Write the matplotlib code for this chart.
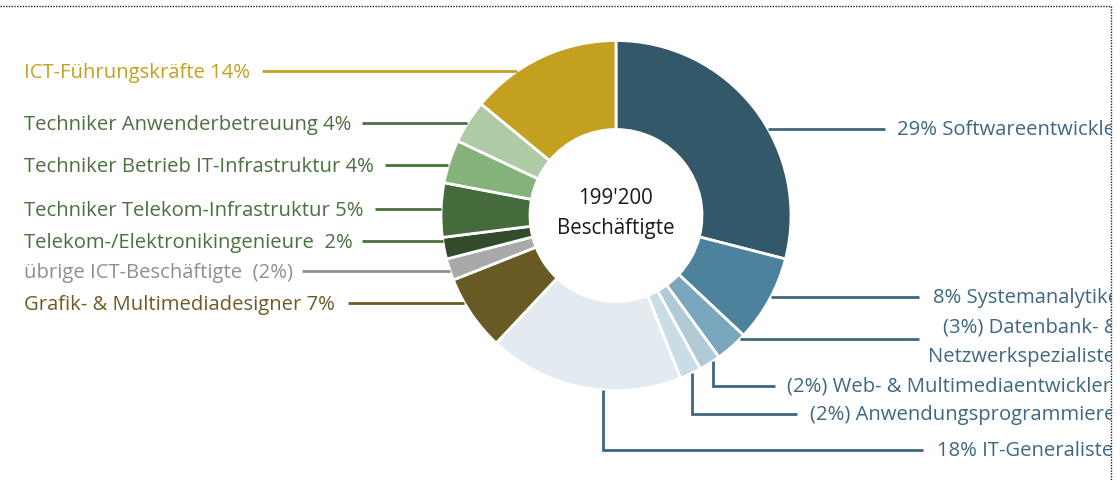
import matplotlib
matplotlib.use("Agg")
import matplotlib.pyplot as plt
import numpy as np

# ---- data (clockwise from 12 o'clock) ----
categories = [
    "Softwareentwickler", "Systemanalytiker", "Datenbank- & Netzwerkspezialisten",
    "Web- & Multimediaentwickler", "Anwendungsprogrammierer", "IT-Generalisten",
    "Grafik- & Multimediadesigner", "übrige ICT-Beschäftigte", "Telekom-/Elektronikingenieure",
    "Techniker Telekom-Infrastruktur", "Techniker Betrieb IT-Infrastruktur",
    "Techniker Anwenderbetreuung", "ICT-Führungskräfte",
]
shares = [29, 8, 3, 2, 2, 18, 7, 2, 2, 5, 4, 4, 14]
labels = [
    "29% Softwareentwickler", "8% Systemanalytiker", "(3%) Datenbank- &\nNetzwerkspezialisten",
    "(2%) Web- & Multimediaentwickler", "(2%) Anwendungsprogrammierer", "18% IT-Generalisten",
    "Grafik- & Multimediadesigner 7%", "übrige ICT-Beschäftigte  (2%)", "Telekom-/Elektronikingenieure  2%",
    "Techniker Telekom-Infrastruktur 5%", "Techniker Betrieb IT-Infrastruktur 4%",
    "Techniker Anwenderbetreuung 4%", "ICT-Führungskräfte 14%",
]
total_label = "199'200\nBeschäftigte"

colors = ["#325869", "#4d829c", "#7aa7bd", "#b0cad6", "#cadde6", "#e3ebf1",
          "#695a23", "#a9a9a9", "#324b2b", "#456b3d", "#84b37a", "#aecba5", "#c4a020"]
text_colors = ["#3d6880"] * 6 + ["#6b5c24", "#8f8f8f", "#4a7040", "#4a7040", "#4a7040", "#4a7040", "#c4a020"]

W, H = 1120, 481
fig = plt.figure(figsize=(W / 100, H / 100), dpi=100)
AW = 1111
ax = fig.add_axes([0, 0, AW / W, 1])

cx, cy = 616, H - 216.5
R, ring = 175, 89

ax.pie(shares, colors=colors, startangle=90, counterclock=False, radius=R,
       center=(cx, cy), frame=True,
       wedgeprops=dict(width=ring, edgecolor="white", linewidth=2))
ax.set_aspect("auto")
ax.set_xlim(0, AW)
ax.set_ylim(0, H)
ax.axis("off")

FAM = ["Open Sans", "DejaVu Sans"]
font = dict(family=FAM, fontsize=14.6)

def yy(py):
    return H - py

layout = {
    0: ("hr", 130, 885, 897),
    1: ("hr", 298, 919, 933),
    2: ("hr", 340, 919, None),
    3: ("v", 713, 387, 775, 787),
    4: ("v", 692, 415, 797, 810),
    5: ("v", 603, 451, 923, 937),
    6: ("hl", 304, 348),
    7: ("hl", 272, 302),
    8: ("hl", 242, 362),
    9: ("hl", 210, 375),
    10: ("hl", 166, 385),
    11: ("hl", 124, 362),
    12: ("hl", 72, 262),
}

for i, lab in enumerate(labels):
    spec = layout[i]
    c = text_colors[i]
    if spec[0] == "hr":
        _, py, xend, xt = spec
        xs = cx + np.sqrt(R ** 2 - (cy - yy(py)) ** 2)
        ax.plot([xs, xend], [yy(py), yy(py)], color=c, lw=2, solid_capstyle="butt")
        if xt is not None:
            ax.text(xt, yy(py), lab, color=c, ha="left", va="center", clip_on=True, **font)
    elif spec[0] == "v":
        _, px, py, xend, xt = spec
        ys = cy - np.sqrt(R ** 2 - (px - cx) ** 2)
        ax.plot([px, px, xend], [ys, yy(py), yy(py)], color=c, lw=2,
                solid_capstyle="butt", solid_joinstyle="miter")
        ax.text(xt, yy(py), lab, color=c, ha="left", va="center", clip_on=True, **font)
    else:
        _, py, xstart = spec
        xs = cx - np.sqrt(R ** 2 - (cy - yy(py)) ** 2)
        ax.plot([xstart, xs], [yy(py), yy(py)], color=c, lw=2, solid_capstyle="butt")
        ax.text(24, yy(py + 1), lab, color=c, ha="left", va="center", clip_on=True, **font)

l1, l2 = labels[2].split("\n")
ax.text(943, yy(328), l1, color=text_colors[2], ha="left", va="center", clip_on=True, **font)
ax.text(928, yy(357), l2, color=text_colors[2], ha="left", va="center", clip_on=True, **font)

t1, t2 = total_label.split("\n")
ax.text(cx, yy(198), t1, color="#1a1a1a", ha="center", va="center", family=FAM, fontsize=14.8)
ax.text(cx, yy(229), t2, color="#1a1a1a", ha="center", va="center", family=FAM, fontsize=14.8)

fig.add_artist(plt.Line2D([0, AW / W, AW / W], [1 - 7 / H, 1 - 7 / H, 0],
                          transform=fig.transFigure, color="#222222", lw=1,
                          linestyle=(0, (1, 1))))

fig.savefig("out.png", dpi=100)
